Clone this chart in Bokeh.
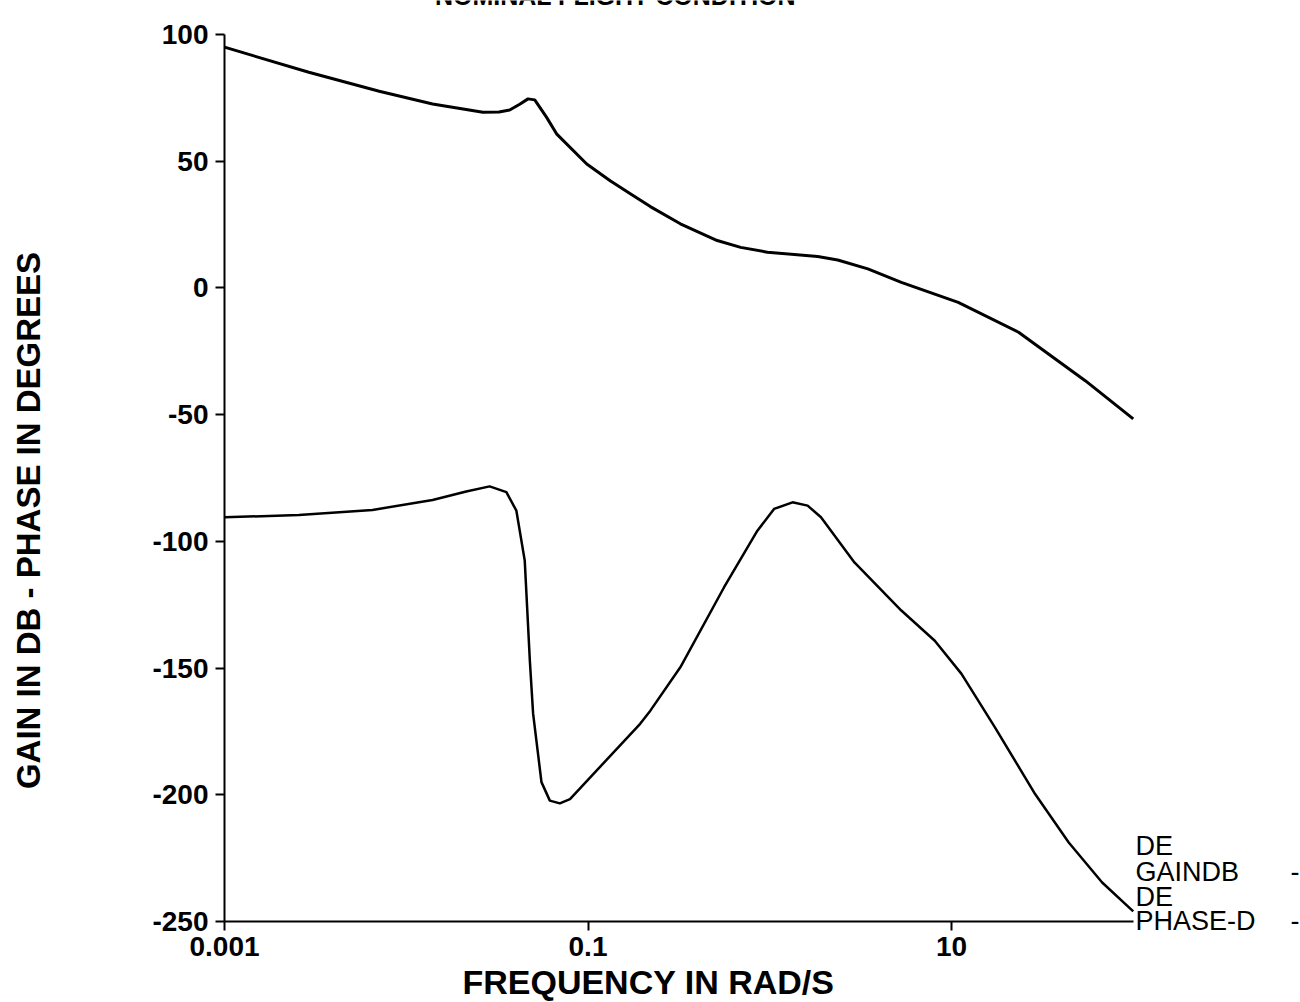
from bokeh.plotting import figure
from bokeh.models import Range1d, FixedTicker, CustomJSTickFormatter, Label
from bokeh.embed import file_html
from bokeh.resources import INLINE
import math

# ---- data ----
gain_freq = [0.001, 0.00291, 0.0071, 0.01396, 0.02642, 0.0324, 0.03707, 0.0421,
             0.04677, 0.05093, 0.0592, 0.06714, 0.0984, 0.1324, 0.1778, 0.2203,
             0.3221, 0.514, 0.6918, 0.9705, 1.837, 2.366, 3.466, 5.297,
             10.89, 23.39, 54.45, 100.0]
gain_db = [95.0, 85.1, 77.6, 72.6, 69.3, 69.4, 70.2, 72.5,
           74.6, 74.2, 67.3, 60.8, 48.9, 42.3, 36.4, 32.1,
           25.3, 18.7, 16.0, 14.1, 12.4, 11.0, 7.5, 2.2,
           -5.7, -17.5, -36.6, -51.7]

phase_freq = [0.001, 0.002564, 0.006516, 0.01396, 0.02138, 0.02877, 0.03556, 0.04036,
              0.04487, 0.04786, 0.04989, 0.05546, 0.06166, 0.06998, 0.07962, 0.1936,
              0.2203, 0.3221, 0.5598, 0.8551, 1.056, 1.334, 1.616, 1.914,
              2.924, 5.297, 8.091, 11.35, 17.34, 28.84, 44.16, 67.45, 100.0]
phase_deg = [-90.5, -89.6, -87.6, -83.7, -80.3, -78.3, -80.6, -87.9,
             -107.6, -147.0, -168.0, -195.0, -202.3, -203.4, -201.7, -172.0,
             -166.8, -149.7, -118.2, -95.8, -87.2, -84.6, -85.9, -90.5,
             -108.3, -127.3, -139.2, -152.3, -173.4, -199.7, -218.8, -234.6, -246.0]

x_ticks = [0.001, 0.1, 10]
y_ticks = [-250, -200, -150, -100, -50, 0, 50, 100]

title_text = "NOMINAL FLIGHT CONDITION"
x_label = "FREQUENCY IN RAD/S"
y_label = "GAIN IN DB - PHASE IN DEGREES"
legend_lines = ["DE", "GAINDB", "DE", "PHASE-D"]

FONT = "Liberation Sans"

# ---- layout: the frame fills the whole canvas, axes sit at fixed data positions ----
W, H = 1300, 1002
AX_LEFT = 224          # canvas x of f = 0.001
PX_DEC = 181.75        # pixels per decade
AX_TOP, AX_BOT = 34, 921   # canvas y of +100 and -250
X_MIN, X_MAX = 0.001, 100.0
Y_MIN, Y_MAX = -250.0, 100.0

def fx(cx):
    return 10 ** (math.log10(X_MIN) + (cx - AX_LEFT) / PX_DEC)

def fy(cy):
    return Y_MIN + (AX_BOT - cy) * (Y_MAX - Y_MIN) / (AX_BOT - AX_TOP)

p = figure(width=W, height=H, x_axis_type="log",
           x_range=Range1d(fx(0), fx(W)), y_range=Range1d(fy(H), fy(0)),
           output_backend="svg", toolbar_location=None,
           min_border_left=0, min_border_right=0,
           min_border_top=0, min_border_bottom=0)
p.outline_line_color = None
p.xgrid.grid_line_color = None
p.ygrid.grid_line_color = None
p.background_fill_color = "white"
p.border_fill_color = "white"

xa, ya = p.xaxis[0], p.yaxis[0]
xa.fixed_location = Y_MIN
xa.bounds = (X_MIN, X_MAX)
ya.fixed_location = X_MIN
ya.bounds = (Y_MIN, Y_MAX)

for ax in (xa, ya):
    ax.axis_line_color = "black"
    ax.axis_line_width = 2
    ax.major_tick_line_color = "black"
    ax.major_tick_line_width = 2
    ax.major_tick_out = 9
    ax.major_tick_in = 0
    ax.minor_tick_line_color = None
    ax.major_label_text_font = FONT
    ax.major_label_text_font_style = "bold"
    ax.major_label_text_font_size = "28px"
    ax.major_label_text_color = "black"
    ax.formatter = CustomJSTickFormatter(code="return tick.toString();")

xa.ticker = FixedTicker(ticks=x_ticks)
xa.major_label_standoff = 6
ya.ticker = FixedTicker(ticks=y_ticks)
ya.major_label_standoff = 7

p.line(gain_freq, gain_db, line_color="black", line_width=3)
p.line(phase_freq, phase_deg, line_color="black", line_width=2.5)

# axis titles
p.add_layout(Label(x=fx(648), y=fy(981), text=x_label, text_align="center",
                   text_baseline="middle", text_font=FONT, text_font_style="bold",
                   text_font_size="34px", text_color="black"))
p.add_layout(Label(x=fx(28), y=fy(520), text=y_label, angle=math.pi / 2,
                   text_align="center", text_baseline="middle", text_font=FONT,
                   text_font_style="bold", text_font_size="33px", text_color="black"))
# title, mostly cut off by the top edge as in the source
p.add_layout(Label(x=fx(615), y=fy(-5), text=title_text, text_align="center",
                   text_baseline="alphabetic", text_font=FONT, text_font_style="bold",
                   text_font_size="25px", text_color="black"))

# legend text block at lower right
legend_cy = [845, 871, 896, 920]
for txt, cy in zip(legend_lines, legend_cy):
    p.add_layout(Label(x=fx(1135), y=fy(cy), text=txt, text_align="left",
                       text_baseline="middle", text_font=FONT,
                       text_font_size="27px", text_color="black"))
for cy in (legend_cy[1], legend_cy[3]):
    p.add_layout(Label(x=fx(1290), y=fy(cy), text="-", text_align="left",
                       text_baseline="middle", text_font=FONT,
                       text_font_size="27px", text_color="black"))

open("out.html", "w").write(file_html(p, INLINE))
